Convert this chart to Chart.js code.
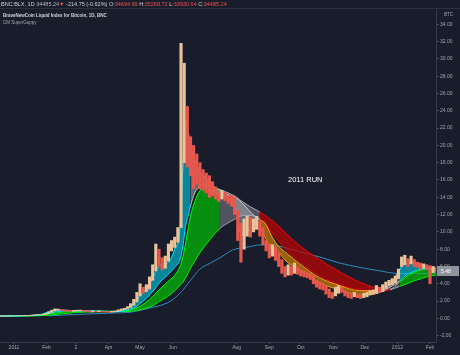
<!DOCTYPE html>
<html lang="en">
<head>
<meta charset="UTF-8">
<title>BNC:BLX 2011 run</title>
<script src="https://cdn.jsdelivr.net/npm/chart.js"></script>
<style>
  body { margin: 0; background: #191c2a; }
  .wrap { position: relative; width: 460px; height: 355px; overflow: hidden; background: #191c2a;
          font-family: "Liberation Sans", Arial, sans-serif; }
  .wrap canvas { position: absolute; left: 0; top: 0; }
  .topline { position: absolute; left: 0; top: 0; width: 460px; height: 8px; border-bottom: 1px solid #2c3040;
             font-size: 5.5px; line-height: 8px; color: #d1d4dc; white-space: nowrap; padding-left: 1px; }
  .topline .red { color: #ef5350; }
  .topline .dim { color: #b2b5be; }
  .legend { position: absolute; left: 3px; top: 12px; white-space: nowrap; }
  .legend .t1 { font-size: 4.5px; font-weight: bold; color: #d1d4dc; line-height: 7px; }
  .legend .t2 { font-size: 4.5px; color: #a3a6af; line-height: 7px; }
  .run { position: absolute; left: 288px; top: 175px; font-size: 7.5px; color: #ffffff; white-space: nowrap; }
  .unit { position: absolute; left: 444px; top: 12px; font-size: 4.5px; color: #a3a6af; }
</style>
</head>
<body>
<div class="wrap">
    <canvas id="chart" width="460" height="355"></canvas>
    <div class="topline">BNC:BLX, 1D <span class="dim">34485.24</span><span class="red">&#9660;</span> -214.75 (-0.62%) O:<span class="red">34694.99</span> H:<span class="red">35268.72</span> L:<span class="red">33930.64</span> C:<span class="red">34485.24</span></div>
    <div class="legend">
        <div class="t1">BraveNewCoin Liquid Index for Bitcoin, 1D, BNC</div>
        <div class="t2">CM SuperGuppy</div>
    </div>
    <div class="unit">BTC</div>
    <div class="run">2011 RUN</div>
</div>
<script>
// price bars: one bar every 3 days, day 0 = 1 Jan 2011
const priceStart = -12;
const priceStep = 3;
const priceLow = [
    0.24, 0.24, 0.25, 0.26, 0.28, 0.28, 0.30, 0.30, 0.31, 0.31,
    0.33, 0.38, 0.40, 0.41, 0.45, 0.55, 0.70, 0.85, 0.95, 0.88,
    0.85, 0.82, 0.80, 0.80, 0.85, 0.86, 0.84, 0.75, 0.72, 0.74,
    0.75, 0.76, 0.74, 0.72, 0.70, 0.72, 0.75, 0.80, 0.92, 1.00,
    1.10, 1.25, 1.50, 1.90, 2.60, 2.90, 3.10, 3.40, 4.40, 5.50,
    6.00, 5.60, 5.80, 6.60, 7.80, 8.20, 8.80, 10.5, 18.0, 17.5,
    16.5, 15.0, 15.5, 15.0, 14.8, 14.5, 14.0, 14.2, 13.8, 13.5,
    13.8, 13.6, 13.3, 13.0, 12.0, 9.0, 6.5, 8.0, 9.5, 9.4,
    10.0, 10.3, 9.5, 8.5, 7.8, 7.0, 7.2, 6.7, 6.0, 5.2,
    4.8, 5.0, 5.0, 5.2, 5.1, 4.9, 4.8, 4.7, 4.5, 4.0,
    3.6, 3.4, 3.3, 2.8, 2.4, 2.3, 2.6, 2.9, 3.0, 2.6,
    2.4, 2.3, 2.5, 2.4, 2.3, 2.4, 2.5, 2.7, 2.8, 2.9,
    3.0, 3.1, 3.5, 3.8, 3.9, 4.1, 4.6, 6.0, 6.2, 6.0,
    6.3, 6.0, 5.9, 5.6, 5.8, 5.6, 4.0, 5.3, 5.4
];
const priceHigh = [
    0.30, 0.30, 0.30, 0.31, 0.31, 0.32, 0.33, 0.33, 0.34, 0.35,
    0.40, 0.44, 0.45, 0.46, 0.58, 0.75, 0.95, 1.10, 1.08, 1.02,
    0.98, 0.95, 0.92, 0.93, 0.95, 0.96, 0.94, 0.90, 0.88, 0.86,
    0.84, 0.86, 0.82, 0.80, 0.80, 0.82, 0.86, 0.98, 1.10, 1.16,
    1.35, 1.70, 2.20, 3.00, 4.00, 3.60, 3.90, 4.80, 6.20, 8.60,
    8.00, 7.00, 7.20, 8.60, 9.00, 9.40, 10.5, 31.8, 29.5, 24.5,
    21.0, 20.0, 19.0, 18.0, 17.2, 16.8, 16.5, 15.8, 15.2, 14.6,
    14.8, 14.6, 14.2, 14.2, 14.0, 12.5, 11.0, 11.5, 11.8, 11.7,
    11.5, 11.8, 11.2, 10.5, 9.0, 8.6, 8.5, 8.2, 7.6, 6.8,
    6.0, 6.2, 6.0, 6.4, 6.0, 5.6, 5.5, 5.3, 5.2, 5.0,
    4.4, 4.2, 4.0, 3.8, 3.4, 3.0, 3.6, 3.8, 3.6, 3.2,
    3.0, 2.9, 3.0, 2.8, 2.7, 2.9, 3.0, 3.2, 3.3, 3.8,
    3.6, 3.9, 4.2, 4.4, 4.6, 4.9, 5.7, 7.1, 7.3, 6.9,
    7.2, 6.8, 6.5, 6.4, 6.3, 6.2, 6.1, 6.0, 5.8
];
const lastClose = 5.48;

// CM SuperGuppy ribbons (outer edges) and the 200 EMA
const ribbonDays = [-13, 10, 25, 40, 53, 70, 82, 95, 106, 114,
    120, 125, 129, 134, 139, 146, 153, 158, 161, 163,
    166, 168, 172, 177, 182, 187, 196, 206, 212, 215,
    220, 225, 234, 239, 245, 250, 260, 272, 291, 310,
    329, 346, 358, 367, 372, 380, 388, 396, 402];
const fastTop = [0.28, 0.32, 0.44, 0.98, 0.92, 0.88, 0.84, 0.80, 1.05, 1.75,
    2.6, 3.3, 3.9, 5.2, 6.2, 6.4, 8.0, 10.5, 18.0, 23.0,
    21.5, 20.0, 18.3, 17.0, 16.3, 15.6, 14.8, 14.2, 13.9, 13.6,
    13.0, 12.3, 11.4, 11.0, 9.6, 8.6, 7.5, 6.3, 4.7, 3.8,
    3.2, 3.2, 3.9, 5.6, 6.5, 6.5, 6.2, 5.8, 5.7];
const fastBot = [0.26, 0.30, 0.38, 0.75, 0.88, 0.86, 0.80, 0.78, 0.88, 1.20,
    1.7, 2.2, 2.7, 3.4, 4.2, 5.0, 5.9, 6.8, 8.5, 10.5,
    12.0, 13.0, 14.5, 15.2, 15.4, 15.0, 14.3, 13.7, 12.4, 10.0,
    9.5, 10.4, 10.3, 9.4, 8.0, 7.8, 6.5, 5.6, 4.1, 3.3,
    2.7, 2.9, 3.6, 4.3, 4.9, 5.4, 5.7, 5.7, 5.6];
const slowTop = [0.30, 0.31, 0.37, 0.62, 0.82, 0.86, 0.84, 0.81, 0.86, 1.10,
    1.40, 1.80, 2.2, 2.8, 3.4, 4.2, 5.0, 6.0, 7.2, 8.5,
    10.5, 11.8, 13.5, 14.8, 15.2, 15.2, 14.9, 14.4, 14.0, 13.7,
    13.3, 12.9, 12.3, 11.9, 11.4, 10.9, 9.7, 8.4, 6.8, 5.4,
    4.2, 3.5, 3.4, 4.2, 4.7, 5.3, 5.6, 5.8, 5.85];
const slowBot = [0.27, 0.28, 0.31, 0.45, 0.62, 0.75, 0.78, 0.79, 0.79, 0.86,
    1.0, 1.15, 1.3, 1.6, 2.0, 2.5, 3.2, 3.8, 4.2, 4.6,
    5.3, 5.8, 6.6, 7.6, 8.4, 9.2, 10.4, 11.2, 11.6, 11.8,
    11.9, 11.9, 11.5, 11.0, 10.0, 9.2, 7.8, 6.5, 4.9, 3.9,
    3.3, 3.1, 3.3, 3.7, 3.9, 4.3, 4.6, 4.9, 5.0];
const emaDays = [32, 60, 90, 113, 129, 146, 158, 168, 177, 187, 196, 208,
    225, 234, 250, 272, 291, 310, 329, 348, 365, 380, 396, 402];
const ema200 = [0.30, 0.45, 0.60, 0.75, 1.2, 1.8, 2.9, 4.4, 5.7, 6.4, 7.0, 7.9,
    8.3, 8.5, 8.4, 7.7, 7.1, 6.4, 5.9, 5.5, 5.2, 5.2, 5.2, 5.25];

// trend state of each ribbon, from the given day on
const fastTrend = [[-14, 'up'], [167, 'flat'], [234, 'down'], [345, 'flat'], [366, 'up'], [392, 'flat']];
const slowTrend = [[-14, 'up'], [188, 'flat'], [232, 'down'], [354, 'flat'], [367, 'up']];

// axis
const xTickDays = [0, 31, 59, 90, 120, 151, 212, 243, 273, 304, 334, 365, 396];
const xTickLabels = ['2011', 'Feb', '2', 'Apr', 'May', 'Jun', 'Aug', 'Sep', 'Oct', 'Nov', 'Dec', '2012', 'Feb'];
const yTicks = [-2, 0, 2, 4, 6, 8, 10, 12, 14, 16, 18, 20, 22, 24, 26, 28, 30, 32, 34];

const fastColors = {
    up:   { line: '#00f0ff', fill: 'rgba(0,200,225,0.62)' },
    flat: { line: '#c4c7ce', fill: 'rgba(175,178,186,0.50)' },
    down: { line: '#ffa000', fill: 'rgba(230,140,0,0.62)' }
};
const slowColors = {
    up:   { line: '#00ff00', fill: 'rgba(0,215,0,0.62)' },
    flat: { line: '#a8abb2', fill: 'rgba(150,153,162,0.45)' },
    down: { line: '#ff0000', fill: 'rgba(200,0,0,0.68)' }
};

function trendAt(list, day) {
    let s = list[0][1];
    for (const [d, st] of list) { if (day >= d) s = st; }
    return s;
}

const pxPerDay = 1.0505;
const priceData = priceLow.map((lo, i) => ({ x: priceStart + i * priceStep, y: [lo, priceHigh[i]] }));
const barColors = priceLow.map((lo, i) => {
    const mid = (lo + priceHigh[i]) / 2;
    const prev = i > 0 ? (priceLow[i - 1] + priceHigh[i - 1]) / 2 : mid;
    return mid >= prev ? '#e9c39a' : '#e8574c';
});
const pts = (xs, ys) => xs.map((x, i) => ({ x: x, y: ys[i] }));

function ribbon(label, top, bot, trend, colors, order) {
    const seg = {
        borderColor: c => colors[trendAt(trend, c.p0.parsed.x)].line,
        backgroundColor: c => colors[trendAt(trend, c.p0.parsed.x)].fill
    };
    return [
        { type: 'line', label: label + ' top', data: pts(ribbonDays, top), borderWidth: 1, pointRadius: 0,
          cubicInterpolationMode: 'monotone', fill: '+1', segment: seg, order: order },
        { type: 'line', label: label + ' bottom', data: pts(ribbonDays, bot), borderWidth: 1, pointRadius: 0,
          cubicInterpolationMode: 'monotone', fill: false, segment: seg, order: order }
    ];
}

// price tag on the right scale
const priceTag = {
    id: 'priceTag',
    afterDraw(chart) {
        const y = chart.scales.y.getPixelForValue(lastClose);
        const c = chart.ctx;
        c.save();
        c.fillStyle = '#8f939c';
        c.fillRect(437, y - 5, 22, 10);
        c.fillStyle = '#ffffff';
        c.font = '5px "Liberation Sans", Arial, sans-serif';
        c.textBaseline = 'middle';
        c.fillText(lastClose.toFixed(2), 441, y + 0.5);
        c.restore();
    }
};

new Chart(document.getElementById('chart'), {
    data: {
        datasets: [
            { type: 'bar', label: 'BLX', data: priceData, backgroundColor: barColors,
              barThickness: 2.5, grouped: false, order: 0 },
            ...ribbon('fast', fastTop, fastBot, fastTrend, fastColors, 1),
            ...ribbon('slow', slowTop, slowBot, slowTrend, slowColors, 2),
            { type: 'line', label: 'EMA 200', data: pts(emaDays, ema200), borderColor: '#2f8cc0',
              borderWidth: 1, pointRadius: 0, cubicInterpolationMode: 'monotone', fill: false, order: 3 }
        ]
    },
    options: {
        responsive: false,
        animation: false,
        layout: { padding: { top: 9, left: 0, right: 0, bottom: 0 } },
        plugins: { legend: { display: false }, tooltip: { enabled: false } },
        scales: {
            x: {
                type: 'linear',
                offset: false,
                min: -14 / pxPerDay,
                max: 422 / pxPerDay,
                afterBuildTicks: s => { s.ticks = xTickDays.map(v => ({ value: v })); },
                afterFit: s => { s.height = 13; },
                ticks: {
                    autoSkip: false, maxRotation: 0, padding: 1, color: '#a3a6af',
                    font: { size: 5, family: '"Liberation Sans", Arial, sans-serif' },
                    callback: v => xTickLabels[xTickDays.indexOf(v)]
                },
                grid: { drawOnChartArea: false, offset: false, tickLength: 2, color: '#4a4e5c' },
                border: { color: '#363a4a' }
            },
            y: {
                type: 'linear',
                position: 'right',
                min: -2.73,
                max: 35.77,
                afterBuildTicks: s => { s.ticks = yTicks.map(v => ({ value: v })); },
                afterFit: s => { s.width = 24; },
                ticks: {
                    padding: 1, color: '#a3a6af',
                    font: { size: 5, family: '"Liberation Sans", Arial, sans-serif' },
                    callback: v => v.toFixed(2)
                },
                grid: { drawOnChartArea: false, tickLength: 3, color: '#4a4e5c' },
                border: { color: '#363a4a' }
            }
        }
    },
    plugins: [priceTag]
});
</script>
</body>
</html>
